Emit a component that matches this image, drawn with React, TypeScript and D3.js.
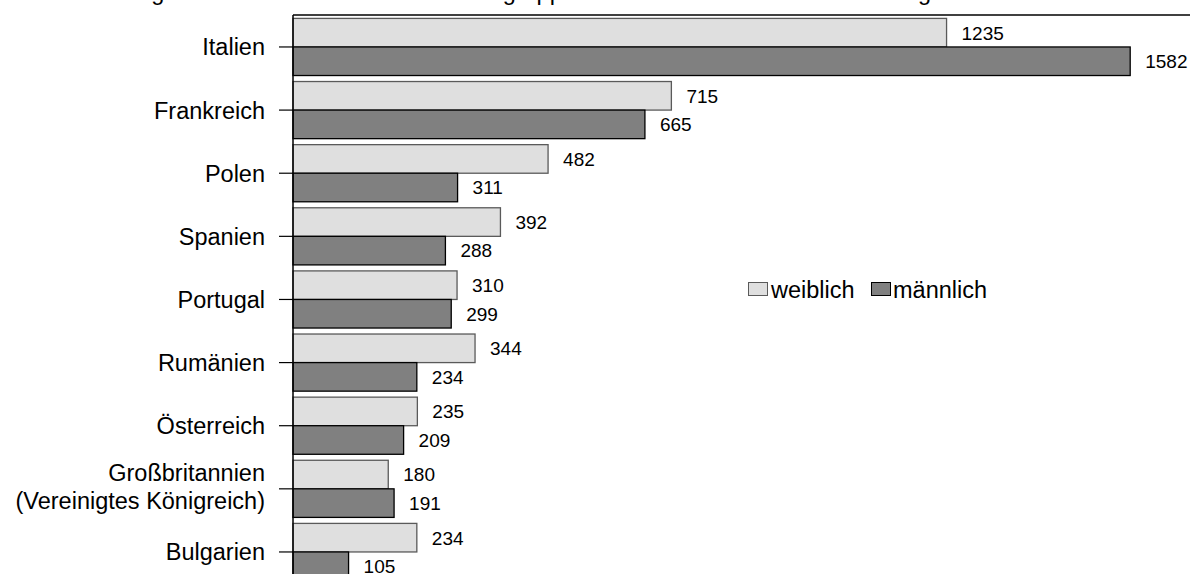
import React from "react";
import * as d3 from "d3";

const categories = [
  "Italien",
  "Frankreich",
  "Polen",
  "Spanien",
  "Portugal",
  "Rumänien",
  "Österreich",
  "Großbritannien\n(Vereinigtes Königreich)",
  "Bulgarien",
];
const weiblich = [1235, 715, 482, 392, 310, 344, 235, 180, 234];
const maennlich = [1582, 665, 311, 288, 299, 234, 209, 191, 105];
const seriesNames = ["weiblich", "männlich"];
const title =
  "Zuzüge nach Deutschland in der Altersgruppe 18 bis unter 25 Jahren nach ausgewählten Herkunftsländern";

const W = 1190;
const H = 574;
const FONT = "Liberation Sans, Arial, sans-serif";

export default function App() {
  const x = d3.scaleLinear().domain([0, 1800]).range([293, 293 + 1800 * 0.5292]);
  const y = d3
    .scaleBand<string>()
    .domain(categories)
    .range([15.4, 15.4 + 9 * 63.125])
    .paddingInner(0.095)
    .paddingOuter(0.0475);
  const inner = d3
    .scaleBand<string>()
    .domain(seriesNames)
    .range([0, y.bandwidth()]);
  const fills = ["#dfdfdf", "#808080"];
  const strokes = ["#5a5a5a", "#000000"];
  const values = [weiblich, maennlich];
  const center = (c: string) => (y(c) as number) + y.bandwidth() / 2;
  const catFont = 23.5;
  const lineGap = 28;

  return (
    <svg
      width={W}
      height={H}
      style={{ position: "absolute", left: 0, top: 0, background: "#fff" }}
      fontFamily={FONT}
    >
      <text x={99} y={0} textAnchor="start" fontSize={23.5} fill="#000">
        {title}
      </text>
      {values.map((vals, si) =>
        categories.map((c, i) => {
          const by = (y(c) as number) + (inner(seriesNames[si]) as number);
          const bh = inner.bandwidth();
          return (
            <g key={`${si}-${i}`}>
              <rect
                x={x(0)}
                y={by}
                width={x(vals[i]) - x(0)}
                height={bh}
                fill={fills[si]}
                stroke={strokes[si]}
                strokeWidth={1.3}
              />
              <text
                x={x(vals[i]) + 15}
                y={by + bh / 2}
                dy="0.36em"
                fontSize={19}
                fill="#000"
              >
                {vals[i]}
              </text>
            </g>
          );
        })
      )}
      {/* frame */}
      <line x1={293} x2={W} y1={15} y2={15} stroke="#000" strokeWidth={1.3} />
      <line x1={293} x2={293} y1={15} y2={H} stroke="#000" strokeWidth={1.5} />
      {categories.map((c) => {
        const cy = center(c);
        const lines = c.split("\n");
        return (
          <g key={c}>
            <line x1={279} x2={293} y1={cy} y2={cy} stroke="#000" strokeWidth={1.2} />
            <text
              x={265}
              y={cy - ((lines.length - 1) * lineGap) / 2 - (lines.length - 1) * 2}
              textAnchor="end"
              fontSize={catFont}
              fill="#000"
            >
              {lines.map((l, k) => (
                <tspan key={k} x={265} dy={k === 0 ? "0.36em" : lineGap}>
                  {l}
                </tspan>
              ))}
            </text>
          </g>
        );
      })}
      {/* legend */}
      <g>
        <rect x={748.5} y={282.5} width={19} height={13} fill={fills[0]} stroke={strokes[0]} strokeWidth={1} />
        <text x={771} y={289.5} dy="0.36em" fontSize={catFont} fill="#000">
          {seriesNames[0]}
        </text>
        <rect x={871.5} y={282.5} width={19} height={13} fill={fills[1]} stroke={strokes[1]} strokeWidth={1} />
        <text x={893} y={289.5} dy="0.36em" fontSize={catFont} fill="#000">
          {seriesNames[1]}
        </text>
      </g>
    </svg>
  );
}
